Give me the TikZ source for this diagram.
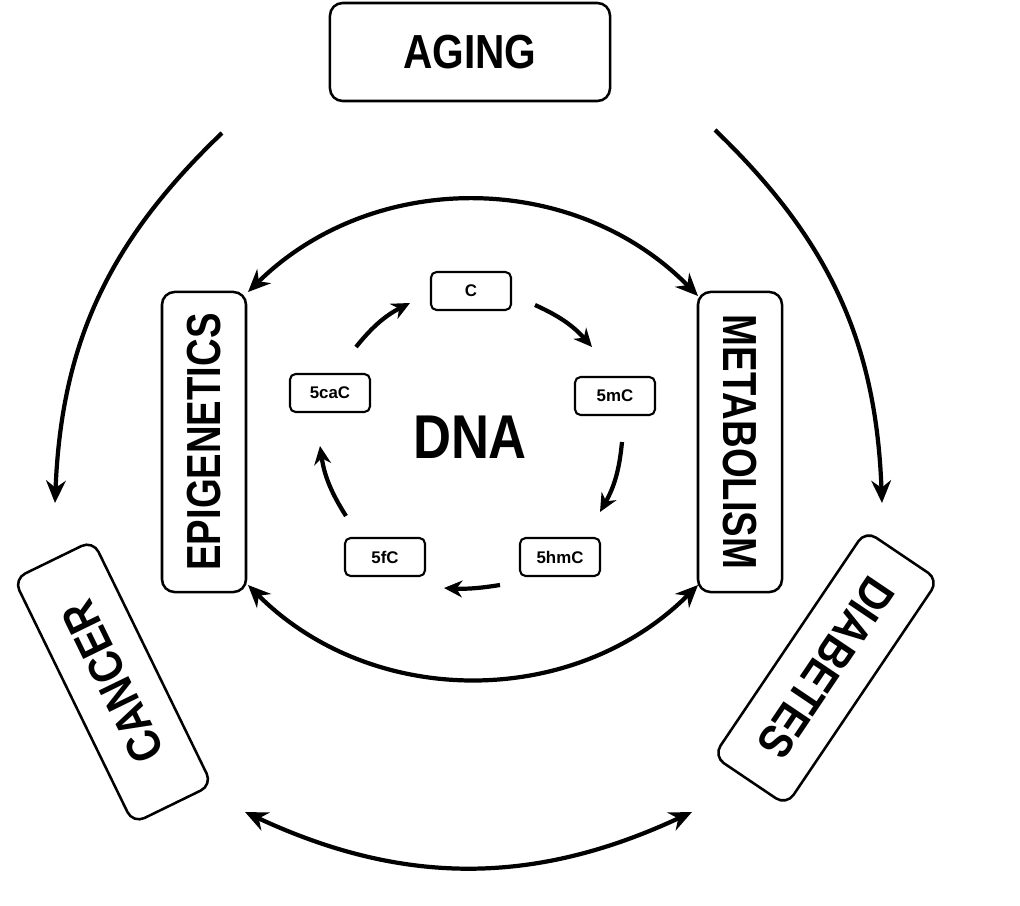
\documentclass[tikz,border=0pt]{standalone}
\usepackage{fontspec}
\setmainfont{Liberation Sans}
\usetikzlibrary{arrows.meta}
\begin{document}
\begin{tikzpicture}[x=0.025cm,y=-0.025cm,
  big/.style={draw,line width=1.8pt,rounded corners=9pt,font=\bfseries\fontsize{34}{34}\selectfont,inner sep=0pt,align=center},
  small/.style={draw,line width=1.5pt,rounded corners=4pt,font=\bfseries\fontsize{12}{12}\selectfont,minimum height=0.95cm,inner sep=0pt},
  arr/.style={line width=3pt,-{Stealth[length=16pt,width=14pt]}},
  darr/.style={line width=3pt,{Stealth[length=16pt,width=14pt]}-{Stealth[length=16pt,width=14pt]}},
  sarr/.style={line width=3pt,-{Stealth[length=13pt,width=12pt]}}]
\useasboundingbox (0,0) rectangle (1020,906);
\node[big,minimum width=7cm,minimum height=2.45cm] (aging) at (470,52) {\scalebox{0.85}[1]{AGING}};
\node[big,minimum width=7.5cm,minimum height=2.1cm,rotate=90] (epi) at (204,442) {\scalebox{0.8}[1]{EPIGENETICS}};
\node[big,minimum width=7.5cm,minimum height=2.1cm,rotate=-90] (met) at (740,442) {\scalebox{0.8}[1]{METABOLISM}};
\node[big,minimum width=6.8cm,minimum height=2.2cm,rotate=116] (can) at (113,682) {\scalebox{0.85}[1]{CANCER}};
\node[big,minimum width=6.8cm,minimum height=2.2cm,rotate=-124] (dia) at (826,668) {\scalebox{0.85}[1]{DIABETES}};
\node[font=\bfseries\fontsize{44}{44}\selectfont] (dna) at (470,437) {\scalebox{0.85}[1]{DNA}};
\node[small,minimum width=2cm] (c) at (471,291) {C};
\node[small,minimum width=2cm] (m) at (615,396) {5mC};
\node[small,minimum width=2cm] (hm) at (560,557) {5hmC};
\node[small,minimum width=2cm] (f) at (385,557) {5fC};
\node[small,minimum width=2cm] (ca) at (330,393) {5caC};
\coordinate (a1) at (222,133); \coordinate (a2) at (55,503);
\coordinate (b1) at (715,130); \coordinate (b2) at (882,503);
\draw[arr] (a1) to[bend right=22] (a2);
\draw[arr] (b1) to[bend left=22] (b2);
\coordinate (d1) at (245,812); \coordinate (d2) at (692,812);
\draw[darr] (d1) to[bend right=25] (d2);
\coordinate (t1) at (248,292); \coordinate (t2) at (698,296);
\draw[darr] (t1) to[bend left=45] (t2);
\coordinate (u1) at (248,585); \coordinate (u2) at (698,585);
\draw[darr] (u1) to[bend right=45] (u2);
\draw[sarr] (356,347) to[bend left=12] (410,303);
\draw[sarr] (535,305) to[bend left=12] (592,347);
\draw[sarr] (622,442) to[bend left=12] (600,512);
\draw[sarr] (500,585) to[bend left=6] (444,588);
\draw[sarr] (346,516) to[bend left=12] (320,446);
\end{tikzpicture}
\end{document}
